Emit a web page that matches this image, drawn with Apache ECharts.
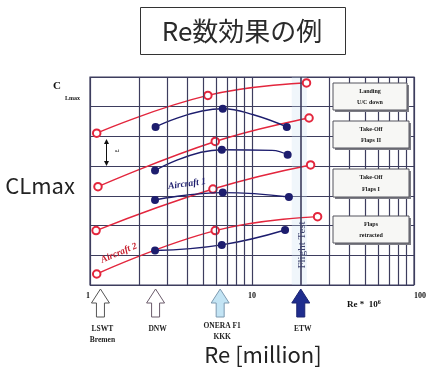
<!DOCTYPE html>
<html>
<head>
<meta charset="utf-8">
<script src="https://cdn.jsdelivr.net/npm/echarts@6/dist/echarts.min.js"></script>
<style>
  html, body { margin: 0; padding: 0; background: #ffffff; }
  #chart { width: 429px; height: 367px; }
</style>
</head>
<body>
<div id="chart"></div>
<script>
// Reynolds number axis (millions, log scale) and its labelled decades
const reTicks = [1, 10, 100];
const reMinorGrid = [2, 3, 4, 5, 6, 7, 8, 9, 20, 30, 40, 50, 60, 70, 80, 90];
const flightTestRe = 20;

// CLmax curves, [Re (million), CLmax in grid units]
// red: Aircraft 2, blue: Aircraft 1 — one pair per flap configuration
const landingRed   = [[1.10, 5.11], [5.34, 6.38], [21.7, 6.80]];
const landingBlue  = [[2.54, 5.32], [6.60, 5.93], [10.2, 5.73], [16.4, 5.32]];
const takeoff2Red  = [[1.12, 3.31], [5.93, 4.83], [22.5, 5.62]];
const takeoff2Blue = [[2.52, 3.85], [6.51, 4.55], [13.3, 4.53], [16.6, 4.38]];
const takeoff1Red  = [[1.09, 1.83], [5.74, 3.23], [23.0, 4.04]];
const takeoff1Blue = [[2.52, 2.86], [6.60, 3.11], [16.9, 2.96]];
const retractRed   = [[1.10, 0.37], [5.93, 1.83], [25.4, 2.30]];
const retractBlue  = [[2.52, 1.16], [6.51, 1.35], [16.0, 1.85]];

// Points on the curves that are drawn without a marker
const shapeOnly = {
  landingBlue: [2],
  takeoff2Blue: [2]
};

// Flap configuration labels
const configLabels = [
  ['Landing', 'U/C down'],
  ['Take-Off', 'Flaps II'],
  ['Take-Off', 'Flaps I'],
  ['Flaps', 'retracted']
];

// Wind tunnels and their maximum Re
const facilityNames = [['LSWT', 'Bremen'], ['DNW'], ['ONERA F1', 'KKK'], ['ETW']];
const facilityRe = [1.16, 2.54, 6.36, 20];

const RED = '#e3263d';
const BLUE = '#1d1d6e';
const GRIDC = '#3d3d5e';
const SERIF = '"Liberation Serif", "DejaVu Serif", serif';
const SANS = '"Noto Sans CJK JP", "Noto Sans", sans-serif';

function pts(arr, hidden) {
  return arr.map((p, i) => (hidden && hidden.indexOf(i) >= 0)
    ? { value: p, symbol: 'none' } : { value: p });
}

function redSeries(arr) {
  return {
    type: 'line', data: pts(arr), smooth: 0.45, z: 3,
    symbol: 'emptyCircle', symbolSize: 7.5,
    lineStyle: { color: RED, width: 1.4 },
    itemStyle: { color: RED, borderWidth: 1 }
  };
}
function blueSeries(arr, hidden) {
  return {
    type: 'line', data: pts(arr, hidden), smooth: 0.45, z: 4,
    symbol: 'circle', symbolSize: 8,
    lineStyle: { color: BLUE, width: 1.4 },
    itemStyle: { color: BLUE }
  };
}

const chart = echarts.init(document.getElementById('chart'), null, { renderer: 'canvas' });

const option = {
  animation: false,
  backgroundColor: '#ffffff',
  grid: {
    left: 90, right: 6, top: 77, bottom: 82,
    show: true, borderColor: GRIDC, borderWidth: 1.2, backgroundColor: 'transparent'
  },
  xAxis: {
    type: 'log', logBase: 10, min: 1, max: 100,
    axisLine: { show: false },
    axisTick: { show: false },
    splitLine: { show: true, lineStyle: { color: GRIDC, width: 1.2 } },
    axisLabel: {
      show: true, margin: 7,
      fontFamily: SERIF, fontWeight: 'bold', fontSize: 8, color: '#111',
      formatter: v => (reTicks.indexOf(v) >= 0 ? String(v) : ''),
      alignMinLabel: 'right', alignMaxLabel: 'left'
    }
  },
  yAxis: {
    type: 'value', min: 0, max: 7, interval: 1,
    axisLine: { show: false }, axisTick: { show: false }, axisLabel: { show: false },
    splitLine: { show: true, lineStyle: { color: GRIDC, width: 1.2 } }
  },
  series: [
    {
      // decade subdivisions of the log axis and the flight-test band
      type: 'line', data: [], silent: true, z: 1,
      markLine: {
        silent: true, symbol: 'none', animation: false,
        label: { show: false },
        lineStyle: { color: GRIDC, width: 1.2, type: 'solid' },
        data: reMinorGrid.map(v => ({ xAxis: v, lineStyle: v === flightTestRe ? { width: 1.6 } : {} }))
      },
      markArea: {
        silent: true,
        itemStyle: { color: 'rgba(205,224,242,0.3)' },
        data: [[{ xAxis: 17.6 }, { xAxis: 21.8 }]]
      }
    },
    redSeries(landingRed),
    blueSeries(landingBlue, shapeOnly.landingBlue),
    redSeries(takeoff2Red),
    blueSeries(takeoff2Blue, shapeOnly.takeoff2Blue),
    redSeries(takeoff1Red),
    blueSeries(takeoff1Blue),
    redSeries(retractRed),
    blueSeries(retractBlue)
  ]
};
chart.setOption(option);

// Annotations: titles, configuration boxes, tunnel arrows
const g = [];
const Z = 50;

// title
g.push({
  type: 'rect', z: Z, shape: { x: 140.5, y: 7.5, width: 205, height: 47 },
  style: { fill: '#fff', stroke: '#333', lineWidth: 1 }
});
g.push({
  type: 'text', z: Z + 1, x: 242, y: 31,
  style: { text: 'Re数効果の例', font: '400 26px ' + SANS, fill: '#2a2a2a', align: 'center', verticalAlign: 'middle' }
});

// axis titles
g.push({ type: 'text', z: Z, x: 40, y: 186, style: { text: 'CLmax', font: '400 22px ' + SANS, fill: '#222', align: 'center', verticalAlign: 'middle' } });
g.push({ type: 'text', z: Z, x: 263, y: 355, style: { text: 'Re [million]', font: '400 22px ' + SANS, fill: '#222', align: 'center', verticalAlign: 'middle' } });
g.push({ type: 'text', z: Z, x: 53, y: 86, style: { text: 'C', font: 'bold 11px ' + SERIF, fill: '#111', verticalAlign: 'middle' } });
g.push({ type: 'text', z: Z, x: 65, y: 98, style: { text: 'Lmax', font: 'bold 6px ' + SERIF, fill: '#111', verticalAlign: 'middle' } });

// Re * 10^6
g.push({
  type: 'text', z: Z, x: 347, y: 305,
  style: {
    text: '{a|Re *  10}{s|6}', verticalAlign: 'middle',
    rich: {
      a: { font: 'bold 9px ' + SERIF, fill: '#111' },
      s: { font: 'bold 6px ' + SERIF, fill: '#111', verticalAlign: 'top', padding: [0, 0, 5, 0] }
    }
  }
});

// configuration boxes
const boxes = [
  { x: 333, y: 83, w: 74, h: 27 },
  { x: 333, y: 121, w: 76, h: 27 },
  { x: 333, y: 169, w: 76, h: 28 },
  { x: 333, y: 216, w: 76, h: 27 }
];
boxes.forEach((b, i) => {
  g.push({ type: 'rect', z: Z, shape: { x: b.x + 2, y: b.y + 2, width: b.w, height: b.h }, style: { fill: '#7c7c84' } });
  g.push({ type: 'rect', z: Z + 1, shape: { x: b.x, y: b.y, width: b.w, height: b.h }, style: { fill: '#f7f7f5', stroke: '#55555f', lineWidth: 1 } });
  const lines = configLabels[i];
  g.push({ type: 'text', z: Z + 2, x: b.x + b.w / 2, y: b.y + b.h * 0.3, style: { text: lines[0], font: 'bold 6px ' + SERIF, fill: '#151515', align: 'center', verticalAlign: 'middle' } });
  g.push({ type: 'text', z: Z + 2, x: b.x + b.w / 2, y: b.y + b.h * 0.72, style: { text: lines[1], font: 'bold 6px ' + SERIF, fill: '#151515', align: 'center', verticalAlign: 'middle' } });
});

// Aircraft labels
g.push({ type: 'text', z: Z, x: 187, y: 184, rotation: 8 * Math.PI / 180,
  style: { text: 'Aircraft 1', font: 'italic bold 9.5px ' + SERIF, fill: BLUE, align: 'center', verticalAlign: 'middle' } });
g.push({ type: 'text', z: Z, x: 119, y: 253, rotation: 23 * Math.PI / 180,
  style: { text: 'Aircraft 2', font: 'italic bold 9.5px ' + SERIF, fill: '#c8202f', align: 'center', verticalAlign: 'middle' } });

// Flight Test
g.push({ type: 'text', z: Z, x: 302, y: 245, rotation: Math.PI / 2,
  style: { text: 'Flight Test', font: '11px ' + SERIF, fill: '#3e4470', align: 'center', verticalAlign: 'middle' } });

// delta CL spacing indicator
g.push({ type: 'line', z: Z, shape: { x1: 106.5, y1: 141, x2: 106.5, y2: 164 }, style: { stroke: '#111', lineWidth: 1 } });
g.push({ type: 'polygon', z: Z, shape: { points: [[106.5, 139], [104, 144], [109, 144]] }, style: { fill: '#111' } });
g.push({ type: 'polygon', z: Z, shape: { points: [[106.5, 166], [104, 161], [109, 161]] }, style: { fill: '#111' } });
g.push({ type: 'text', z: Z, x: 117, y: 151, style: { text: 'a.i', font: 'bold 4px ' + SERIF, fill: '#333', align: 'center', verticalAlign: 'middle' } });

// tunnel arrows under the axis
const arrowFill = ['#ffffff', '#ffffff', '#c3e4f4', '#1f2d8e'];
const arrowStroke = ['#555555', '#6b5b6b', '#7d9ab0', '#1b2470'];
facilityRe.forEach((re, i) => {
  const cx = chart.convertToPixel({ xAxisIndex: 0, yAxisIndex: 0 }, [re, 0])[0];
  g.push({
    type: 'polygon', z: Z,
    shape: { points: [[cx, 289], [cx + 9, 303], [cx + 4, 303], [cx + 4, 317], [cx - 4, 317], [cx - 4, 303], [cx - 9, 303]] },
    style: { fill: arrowFill[i], stroke: arrowStroke[i], lineWidth: 1 }
  });
  const names = facilityNames[i];
  const y0 = names[0] === 'ONERA F1' ? 326 : 329;
  names.forEach((n, k) => {
    g.push({ type: 'text', z: Z, x: cx + 2, y: y0 + k * 11,
      style: { text: n, font: 'bold 7.5px ' + SERIF, fill: '#222', align: 'center', verticalAlign: 'middle' } });
  });
});

chart.setOption({ graphic: { elements: g } });
</script>
</body>
</html>
